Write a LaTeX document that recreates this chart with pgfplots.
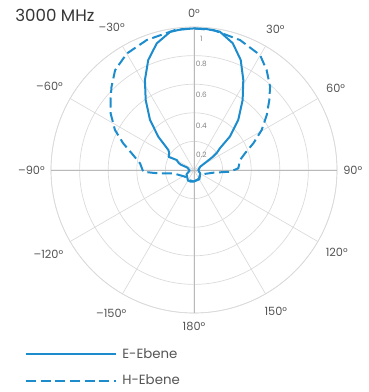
\documentclass[border=0pt]{standalone}
\usepackage{fontspec}
\setmainfont{Poppins}
\usepackage{pgfplots}
\pgfplotsset{compat=1.18}
\usepgfplotslibrary{polar}
\usepackage{pgfplotstable}
\definecolor{eblue}{RGB}{28,140,205}
\definecolor{gridc}{RGB}{218,218,218}
\definecolor{axc}{RGB}{185,185,185}
\definecolor{labc}{RGB}{85,85,85}
\definecolor{rlabc}{RGB}{130,130,130}
\definecolor{titc}{RGB}{55,55,55}

% angle a: compass degrees, 0 = top, clockwise positive
\pgfplotstableread{
a r
180 0.08
150 0.07
120 0.05
90 0.03
62 0.05
57 0.10
55 0.16
53 0.20
50 0.237
47 0.343
41.5 0.467
34.8 0.596
28.7 0.718
23 0.836
17 0.927
10.6 0.984
5 0.99
0 0.99
-5 0.988
-9.8 0.98
-16.4 0.923
-22.6 0.833
-28.6 0.717
-34.6 0.595
-41.3 0.466
-47 0.341
-52 0.228
-55.5 0.21
-62.6 0.20
-60 0.14
-65 0.12
-68 0.10
-70 0.05
-95 0.03
-120 0.06
-150 0.085
-165 0.085
-180 0.08
}\Eebene

\pgfplotstableread{
a r
180 0.08
150 0.075
130 0.055
110 0.08
98 0.136
92.7 0.252
87.8 0.31
77.7 0.33
71.9 0.375
65.8 0.455
59.4 0.55
52.9 0.638
47.1 0.719
42.4 0.789
36 0.864
29.9 0.927
19.5 0.964
7.9 0.988
0 0.99
-7.7 0.988
-20 0.967
-30 0.94
-38.3 0.89
-44.7 0.82
-50.2 0.76
-55.8 0.705
-63.1 0.62
-69.3 0.53
-76 0.44
-83 0.38
-92 0.355
-95 0.26
-99 0.147
-127 0.078
-150 0.08
-180 0.08
}\Hebene

\begin{document}
\begin{tikzpicture}
\path[use as bounding box] (-145.5pt,-166.5pt) rectangle (130.5pt,127.5pt);
\begin{polaraxis}[
  at={(0pt,0pt)}, anchor=center,
  scale only axis, width=214.5pt, height=214.5pt,
  xmin=0, xmax=360, ymin=0, ymax=1,
  xtick={0,30,...,330},
  xticklabels={90°,60°,30°,0°,–30°,–60°,–90°,–120°,–150°,180°,150°,120°},
  ytick={0.2,0.4,0.6,0.8,1},
  yticklabels={,,,,},
  grid=major,
  major grid style={gridc, line width=0.5pt},
  axis line style={gridc, line width=0.5pt},
  major tick length=0pt,
  tick style={draw=none},
  xticklabel style={font=\fontsize{8.5}{9}\selectfont, text=labc, inner xsep=4.5pt, inner ysep=7pt},
  legend style={draw=none, fill=none, inner sep=0pt, outer sep=0pt,
    at={(-0.0909,-0.114)}, anchor=north west,
    font=\fontsize{10}{12}\selectfont, text=labc, row sep=7pt,
    legend cell align=left},
  legend image code/.code={\draw[#1] (0pt,0pt) -- (67.5pt,0pt); \path (69.5pt,0pt);},
]
\draw[axc, line width=0.5pt] (axis cs:0,1) -- (axis cs:180,1);
\draw[axc, line width=0.5pt] (axis cs:90,1) -- (axis cs:270,1);
\addplot[eblue, line width=1.5pt, no marks, line join=round] table[x expr={90-\thisrow{a}}, y=r] {\Eebene};
\addlegendentry{E-Ebene}
\addplot[eblue, line width=1.5pt, no marks, dash pattern=on 7.5pt off 3.5pt, line join=round] table[x expr={90-\thisrow{a}}, y=r] {\Hebene};
\addlegendentry{H-Ebene}
\node[text=rlabc, font=\fontsize{5.5}{6}\selectfont, xshift=5.5pt] at (axis cs:90,0.92) {1};
\node[text=rlabc, font=\fontsize{5.5}{6}\selectfont, xshift=5.5pt] at (axis cs:90,0.745) {0.8};
\node[text=rlabc, font=\fontsize{5.5}{6}\selectfont, xshift=5.5pt] at (axis cs:90,0.525) {0.6};
\node[text=rlabc, font=\fontsize{5.5}{6}\selectfont, xshift=5.5pt] at (axis cs:90,0.31) {0.4};
\node[text=rlabc, font=\fontsize{5.5}{6}\selectfont, xshift=5.5pt] at (axis cs:90,0.105) {0.2};
\end{polaraxis}
\node[anchor=west, text=titc, font=\fontsize{12.5}{14}\selectfont, inner sep=0pt] at (-134.25pt,116.25pt) {3000 MHz};
\end{tikzpicture}
\end{document}
